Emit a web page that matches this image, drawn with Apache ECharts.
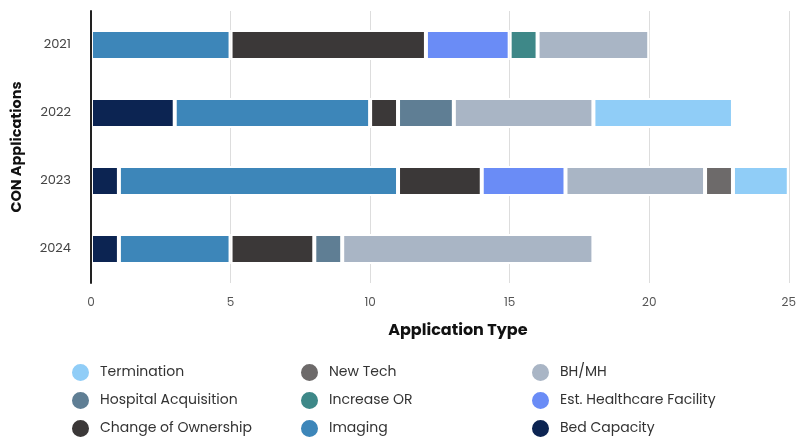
<!DOCTYPE html>
<html>
<head>
<meta charset="utf-8">
<script src="https://cdn.jsdelivr.net/npm/echarts@6/dist/echarts.min.js"></script>
<style>
  html, body { margin: 0; padding: 0; background: #fff; }
  #chart { width: 799px; height: 438px; }
</style>
</head>
<body>
<div id="chart"></div>
<script>
// CON applications by year, stacked by application type
var years = ['2021', '2022', '2023', '2024'];
var xTicks = [0, 5, 10, 15, 20, 25];

var bedCapacity        = [0, 3, 1, 1];
var imaging            = [5, 7, 10, 4];
var changeOfOwnership  = [7, 1, 3, 3];
var estHealthcare      = [3, 0, 3, 0];
var increaseOR         = [1, 0, 0, 0];
var hospitalAcq        = [0, 2, 0, 1];
var bhmh               = [4, 5, 5, 9];
var newTech            = [0, 0, 1, 0];
var termination        = [0, 5, 2, 0];

var seriesDefs = [
  { name: 'Bed Capacity', data: bedCapacity, color: '#0c2452' },
  { name: 'Imaging', data: imaging, color: '#3d86b9' },
  { name: 'Change of Ownership', data: changeOfOwnership, color: '#3b3838' },
  { name: 'Est. Healthcare Facility', data: estHealthcare, color: '#6a8cf6' },
  { name: 'Increase OR', data: increaseOR, color: '#3e8888' },
  { name: 'Hospital Acquisition', data: hospitalAcq, color: '#5f7e94' },
  { name: 'BH/MH', data: bhmh, color: '#a9b5c5' },
  { name: 'New Tech', data: newTech, color: '#6d6a6a' },
  { name: 'Termination', data: termination, color: '#90cdf7' }
];

// legend grid, read row by row
var legendRows = [
  ['Termination', 'New Tech', 'BH/MH'],
  ['Hospital Acquisition', 'Increase OR', 'Est. Healthcare Facility'],
  ['Change of Ownership', 'Imaging', 'Bed Capacity']
];

var font = 'Poppins, Inter, sans-serif';

var myChart = echarts.init(document.getElementById('chart'));

var colLeft = [70, 299, 530];
var legends = [];
legendRows.forEach(function (row, r) {
  row.forEach(function (name, c) {
    legends.push({
      left: colLeft[c],
      top: 362 + r * 28,
      padding: 0,
      data: [name],
      icon: 'circle',
      itemWidth: 19,
      itemHeight: 19,
      textStyle: { fontFamily: font, fontSize: 14, color: '#333', padding: [0, 0, 0, 5] }
    });
  });
});

var option = {
  animation: false,
  textStyle: { fontFamily: font },
  grid: { left: 91, right: 9, top: 11, bottom: 155 },
  legend: legends,
  xAxis: {
    type: 'value',
    min: 0,
    max: xTicks[xTicks.length - 1],
    interval: 5,
    name: 'Application Type',
    nameLocation: 'middle',
    nameGap: 40,
    nameTextStyle: { fontFamily: font, fontWeight: 'bold', fontSize: 16, color: '#111', padding: [0, 0, 0, 36] },
    axisLine: { show: false },
    axisTick: { show: false },
    axisLabel: { fontFamily: font, fontSize: 12, color: '#555', margin: 14 },
    splitLine: { lineStyle: { color: '#dddddd', width: 1 } }
  },
  yAxis: {
    type: 'category',
    data: years,
    inverse: true,
    z: 5,
    name: 'CON Applications',
    nameLocation: 'middle',
    nameGap: 66,
    nameTextStyle: { fontFamily: font, fontWeight: 'bold', fontSize: 14.5, color: '#111' },
    axisLine: { show: true, lineStyle: { color: '#222', width: 2 } },
    axisTick: { show: false },
    axisLabel: { fontFamily: font, fontSize: 13, color: '#444', margin: 20 },
    splitLine: { show: false }
  },
  series: seriesDefs.map(function (s) {
    return {
      name: s.name,
      type: 'bar',
      stack: 'total',
      barWidth: 30,
      // zero counts are left out so no empty bordered segment is drawn
      data: s.data.map(function (v) { return v === 0 ? '-' : v; }),
      itemStyle: { color: s.color, borderColor: '#fff', borderWidth: 2 }
    };
  })
};

myChart.setOption(option);
</script>
</body>
</html>
